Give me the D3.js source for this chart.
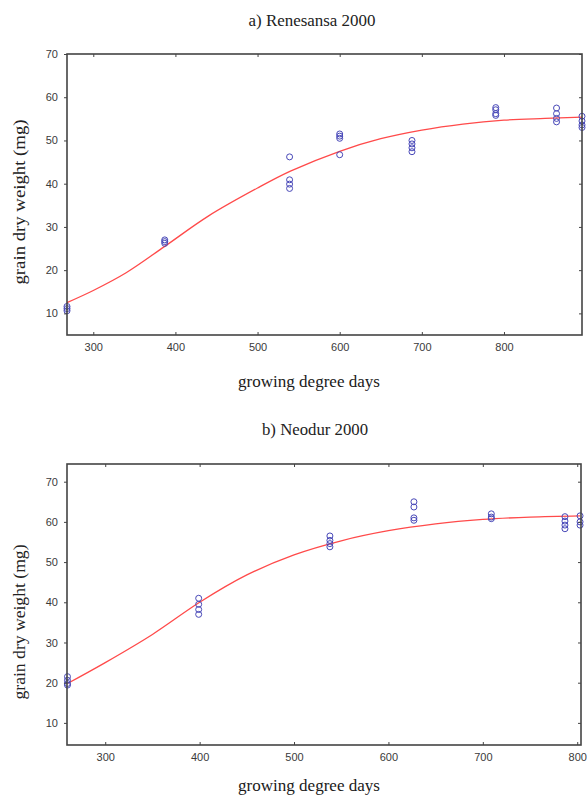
<!DOCTYPE html>
<html>
<head>
<meta charset="utf-8">
<script src="https://cdn.jsdelivr.net/npm/d3@7"></script>
<style>
  body { margin: 0; background: #fff; }
  svg { display: block; }
</style>
</head>
<body>
<div id="canvas"></div>
<script>
// a) Renesansa 2000 - observed grain weights per sampling date
const gddA = [268, 387, 539, 600, 688, 790, 864, 895];
const weightA = [
    [10.6, 11.1, 11.6],
    [26.2, 26.6, 27.0],
    [46.2, 40.9, 39.9, 38.9],
    [51.5, 51.0, 50.5, 46.7],
    [50.0, 49.2, 48.3, 47.4],
    [57.6, 57.1, 56.2, 55.8],
    [57.5, 56.2, 55.1, 54.3],
    [55.6, 54.5, 53.6, 53.0]
];
// fitted curve
const fitXA = [268, 300, 340, 387, 440, 500, 540, 600, 650, 700, 750, 800, 850, 895];
const fitYA = [12.5, 15.3, 19.4, 25.5, 32.5, 39.0, 42.9, 47.5, 50.4, 52.4, 53.8, 54.7, 55.1, 55.4];

// b) Neodur 2000
const gddB = [260, 399, 538, 627, 709, 787, 803];
const weightB = [
    [21.5, 20.6, 19.8, 19.4],
    [41.0, 39.5, 38.2, 37.0],
    [56.5, 55.4, 54.6, 53.8],
    [65.0, 63.7, 61.0, 60.4],
    [62.0, 61.2, 60.8],
    [61.3, 60.2, 59.2, 58.3],
    [61.5, 60.0, 59.2]
];
const fitXB = [260, 300, 350, 400, 450, 500, 550, 600, 650, 700, 750, 803];
const fitYB = [19.8, 25.0, 32.0, 40.0, 46.8, 51.8, 55.3, 57.8, 59.5, 60.6, 61.2, 61.5];

const xTicksA = [300, 400, 500, 600, 700, 800];
const xTicksB = [300, 400, 500, 600, 700, 800];
const yTicks = [10, 20, 30, 40, 50, 60, 70];

const svg = d3.select("#canvas")
    .append("svg")
    .attr("width", 587)
    .attr("height", 797);

function panel(opt) {
    const x = d3.scaleLinear().domain(opt.xDomain).range([opt.left, opt.right]);
    const y = d3.scaleLinear().domain(opt.yDomain).range([opt.bottom, opt.top]);
    const g = svg.append("g");

    // fitted line
    const line = d3.line()
        .x((d, i) => x(opt.fitX[i]))
        .y(d => y(d))
        .curve(d3.curveCatmullRom);
    g.append("path")
        .datum(opt.fitY)
        .attr("d", line)
        .attr("fill", "none")
        .attr("stroke", "#ff4a4a")
        .attr("stroke-width", 1.3);

    // observations
    const pts = [];
    opt.gdd.forEach((gx, i) => opt.weight[i].forEach(w => pts.push([gx, w])));
    g.selectAll("circle")
        .data(pts)
        .join("circle")
        .attr("cx", d => x(d[0]))
        .attr("cy", d => y(d[1]))
        .attr("r", 3)
        .attr("fill", "none")
        .attr("stroke", "#4848b8")
        .attr("stroke-width", 1);

    // axes
    g.append("g")
        .attr("transform", `translate(0,${opt.bottom})`)
        .call(d3.axisBottom(x).tickValues(opt.xTicks).tickSize(-3).tickSizeOuter(0).tickPadding(8));
    g.append("g")
        .attr("transform", `translate(0,${opt.top})`)
        .call(d3.axisTop(x).tickValues(opt.xTicks).tickSize(-3).tickSizeOuter(0).tickFormat(""));
    g.append("g")
        .attr("transform", `translate(${opt.left},0)`)
        .call(d3.axisLeft(y).tickValues(yTicks).tickSize(3).tickSizeOuter(0).tickPadding(6));
    g.append("g")
        .attr("transform", `translate(${opt.right},0)`)
        .call(d3.axisRight(y).tickValues(yTicks).tickSize(-3).tickSizeOuter(0).tickFormat(""));

    g.selectAll(".domain").remove();
    g.selectAll(".tick line").attr("stroke", "#444");
    g.selectAll(".tick text")
        .attr("fill", "#3a3a3a")
        .style("font-family", "Arial, 'Liberation Sans', sans-serif")
        .style("font-size", "11px");

    // frame
    g.append("rect")
        .attr("x", opt.left).attr("y", opt.top)
        .attr("width", opt.right - opt.left)
        .attr("height", opt.bottom - opt.top)
        .attr("fill", "none")
        .attr("stroke", "#444")
        .attr("stroke-width", 1.6);

    const serif = "'Liberation Serif', 'Times New Roman', serif";
    g.append("text")
        .attr("x", opt.titleX).attr("y", opt.titleY)
        .attr("text-anchor", "middle")
        .attr("textLength", opt.titleLen).attr("lengthAdjust", "spacingAndGlyphs")
        .style("font-family", serif).style("font-size", "16px")
        .attr("fill", "#222")
        .text(opt.title);
    g.append("text")
        .attr("x", 309).attr("y", opt.xLabelY)
        .attr("text-anchor", "middle")
        .attr("textLength", 142).attr("lengthAdjust", "spacingAndGlyphs")
        .style("font-family", serif).style("font-size", "16px")
        .attr("fill", "#1a1a1a")
        .text("growing degree days");
    g.append("text")
        .attr("transform", `translate(25,${opt.yLabelY}) rotate(-90)`)
        .attr("text-anchor", "middle")
        .attr("textLength", opt.yLabelLen).attr("lengthAdjust", "spacingAndGlyphs")
        .style("font-family", serif).style("font-size", "16px")
        .attr("fill", "#222")
        .text("grain dry weight (mg)");
}

panel({
    left: 67, right: 582, top: 54, bottom: 335,
    xDomain: [268, 895], yDomain: [5, 70],
    gdd: gddA, weight: weightA, fitX: fitXA, fitY: fitYA,
    xTicks: xTicksA,
    title: "a) Renesansa 2000", titleX: 312, titleY: 26, titleLen: 127,
    xLabelY: 387, yLabelY: 202, yLabelLen: 165
});

panel({
    left: 67, right: 581, top: 464, bottom: 745,
    xDomain: [259.5, 804], yDomain: [4.5, 74.4],
    gdd: gddB, weight: weightB, fitX: fitXB, fitY: fitYB,
    xTicks: xTicksB,
    title: "b) Neodur 2000", titleX: 315, titleY: 435, titleLen: 106,
    xLabelY: 791, yLabelY: 622, yLabelLen: 155
});
</script>
</body>
</html>
